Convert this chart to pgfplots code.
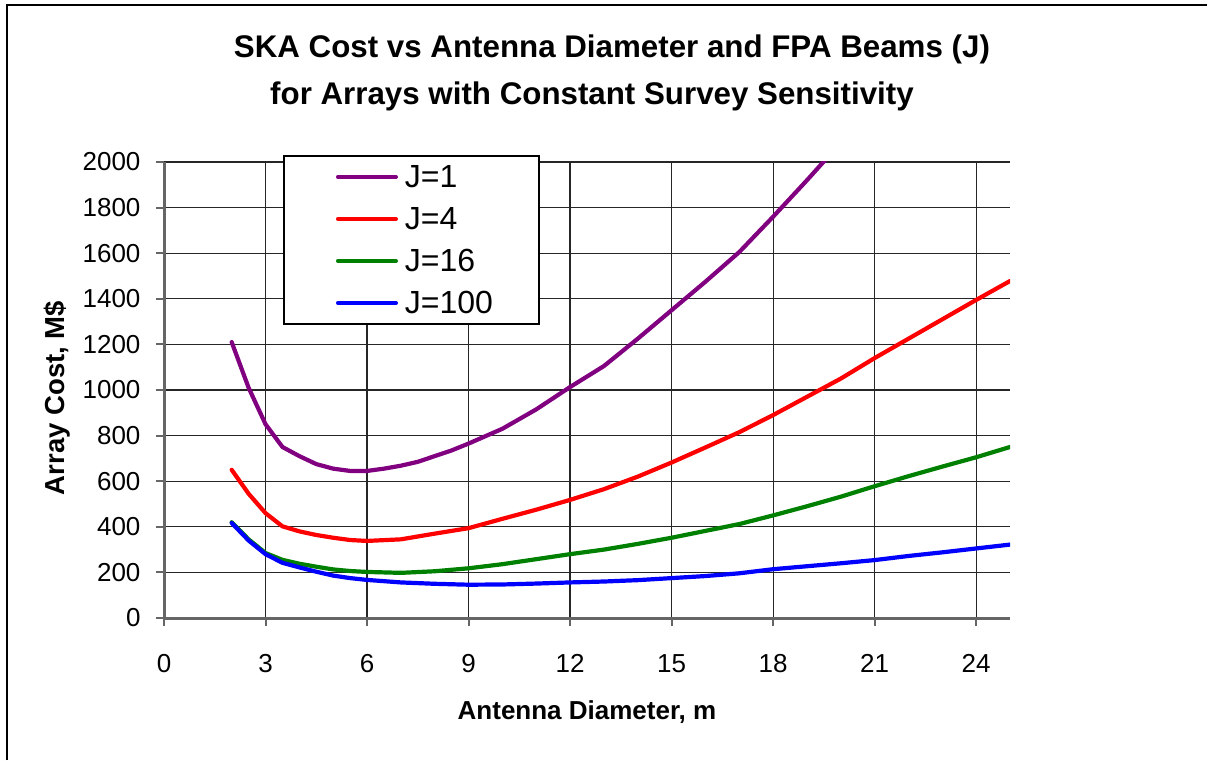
\documentclass[border=0pt]{standalone}
\usepackage{fontspec}
\setmainfont{Liberation Sans}
\usepackage{pgfplots}
\pgfplotsset{compat=1.18}
\definecolor{cpurple}{RGB}{128,0,128}
\definecolor{cred}{RGB}{255,0,0}
\definecolor{cgreen}{RGB}{0,128,0}
\definecolor{cblue}{RGB}{0,0,255}
\begin{document}
\begin{tikzpicture}
\useasboundingbox (0pt,0pt) rectangle (1209pt,760pt);
\draw[line width=2pt] (7pt,0pt) -- (7pt,755pt) -- (1207pt,755pt);
\node[anchor=base, inner sep=0pt, font=\fontsize{31.3}{36}\selectfont\bfseries] at (612pt,702pt) {SKA Cost vs Antenna Diameter and FPA Beams (J)};
\node[anchor=base, inner sep=0pt, font=\fontsize{31.3}{36}\selectfont\bfseries] at (592pt,655pt) {for Arrays with Constant Survey Sensitivity};
\begin{axis}[
  at={(164pt,142pt)}, anchor=south west, scale only axis,
  width=846pt, height=456pt,
  xmin=0, xmax=25, ymin=0, ymax=2000,
  xtick={0,3,...,24}, ytick={0,200,...,2000},
  axis x line=bottom, axis y line=left,
  axis line style={-, draw=gray!80!black, line width=3pt},
  grid=major, major grid style={black!85, line width=1.2pt},
  tick align=outside, major tick length=8pt,
  tick style={gray!80!black, line width=2pt},
  /pgf/number format/assume math mode=true,
  /pgf/number format/1000 sep={},
  ticklabel style={font=\fontsize{26}{30}\selectfont},
  xticklabel style={anchor=base, yshift=-46pt},
  yticklabel style={anchor=east, xshift=-12pt},
  every axis x label/.style={at={(axis description cs:0.5,-0.2215)}, anchor=base, font=\fontsize{26}{30}\selectfont\bfseries},
  every axis y label/.style={at={(axis description cs:-0.1265,0.4825)}, anchor=center, rotate=90, font=\fontsize{27.5}{32}\selectfont\bfseries},
  xlabel={Antenna Diameter, m},
  ylabel={Array Cost, M\$},
  legend style={at={(0.1418,1.0132)}, anchor=north west, draw=black, line width=1.2pt, fill=white,
    inner sep=0pt, outer sep=0pt, row sep=0pt, column sep=0pt,
    font=\fontsize{32}{36}\selectfont,
    nodes={inner sep=0pt, text width=134pt, minimum height=42pt, align=left}},
  legend cell align=left,
  legend image code/.code={\path[draw=none] (-52pt,0pt) -- (69pt,0pt); \draw[#1, line width=4pt, line cap=round] (2pt,0pt) -- (60pt,0pt);},
]
\addplot[color=cpurple, line width=4.2pt, line join=round, line cap=round, mark=none] coordinates {
(2,1210) (2.5,1010) (3,850) (3.5,750) (4,710) (4.5,675) (5,655) (5.5,645) (6,645) (6.5,655) (7,668) (7.5,685) (8,710) (8.5,735) (9,765) (10,830) (11,915) (12,1013) (13,1105) (14,1225) (15,1350) (16,1475) (17,1605) (18,1760) (19,1920) (20,2085)
};
\addlegendentry{J=1}
\addplot[color=cred, line width=4.2pt, line join=round, line cap=round, mark=none] coordinates {
(2,650) (2.5,545) (3,460) (3.5,402) (4,380) (4.5,364) (5,352) (5.5,342) (6,338) (7,345) (8,370) (9,394) (10,435) (11,475) (12,518) (13,565) (14,620) (15,682) (16,748) (17,815) (18,890) (19,970) (20,1050) (21,1140) (22,1225) (23,1310) (24,1395) (25,1478)
};
\addlegendentry{J=4}
\addplot[color=cgreen, line width=4.2pt, line join=round, line cap=round, mark=none] coordinates {
(2,420) (2.5,345) (3,285) (3.5,255) (4,238) (4.5,225) (5,213) (5.5,206) (6,202) (7,198) (8,205) (9,218) (10,236) (11,258) (12,280) (13,300) (14,325) (15,352) (16,382) (17,412) (18,450) (19,490) (20,532) (21,578) (22,622) (23,664) (24,705) (25,750)
};
\addlegendentry{J=16}
\addplot[color=cblue, line width=4.2pt, line join=round, line cap=round, mark=none] coordinates {
(2,417) (2.5,340) (3,280) (3.5,242) (4,222) (4.5,203) (5,186) (5.5,175) (6,167) (7,156) (8,150) (9,146) (10,147) (11,151) (12,156) (13,160) (14,166) (15,175) (16,184) (17,196) (18,214) (19,227) (20,240) (21,254) (22,272) (23,288) (24,305) (25,322)
};
\addlegendentry{J=100}
\end{axis}
\end{tikzpicture}
\end{document}
